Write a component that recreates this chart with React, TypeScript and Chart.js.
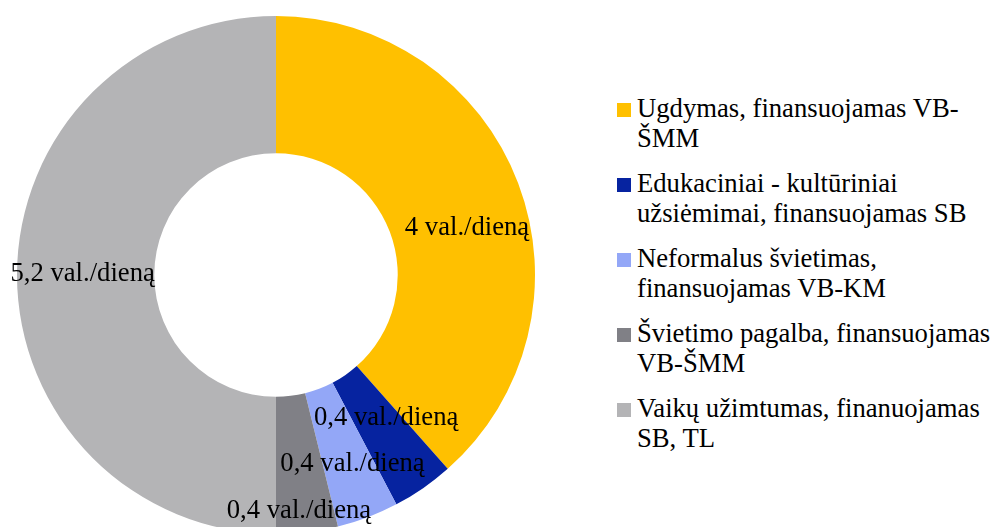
import React, { useEffect, useRef } from "react";
import { Chart, registerables } from "chart.js";

Chart.register(...registerables);

const categories = [
  "Ugdymas, finansuojamas VB-ŠMM",
  "Edukaciniai - kultūriniai užsiėmimai, finansuojamas SB",
  "Neformalus švietimas, finansuojamas VB-KM",
  "Švietimo pagalba, finansuojamas VB-ŠMM",
  "Vaikų užimtumas, finanuojamas SB, TL",
];
const legendLines = [
  ["Ugdymas, finansuojamas VB-", "ŠMM"],
  ["Edukaciniai - kultūriniai", "užsiėmimai, finansuojamas SB"],
  ["Neformalus švietimas,", "finansuojamas VB-KM"],
  ["Švietimo pagalba, finansuojamas", "VB-ŠMM"],
  ["Vaikų užimtumas, finanuojamas", "SB, TL"],
];
const values = [4, 0.4, 0.4, 0.4, 5.2];
const valueLabels = ["4 val./dieną", "0,4 val./dieną", "0,4 val./dieną", "0,4 val./dieną", "5,2 val./dieną"];
const colors = ["#FFC000", "#0623A0", "#93A7F7", "#808086", "#B4B4B6"];
// label nudges (px) relative to slice centroid, mimicking the original placement
const labelNudgeX = [13, 2, 9, 0, -3];
const labelNudgeY = [20, -14, 11, 47, -1];

const FONT = '"Times New Roman", "Liberation Serif", Times, serif';

const labelPlugin = {
  id: "sliceLabels",
  afterDatasetsDraw(chart: any) {
    const ctx = chart.ctx;
    const meta = chart.getDatasetMeta(0);
    ctx.save();
    ctx.font = `26.67px ${FONT}`;
    ctx.fillStyle = "#000";
    ctx.textAlign = "center";
    ctx.textBaseline = "middle";
    meta.data.forEach((arc: any, i: number) => {
      const p = arc.getProps(["x", "y", "startAngle", "endAngle", "innerRadius", "outerRadius"], true);
      const mid = (p.startAngle + p.endAngle) / 2;
      const r = (p.innerRadius + p.outerRadius) / 2;
      const x = p.x + Math.cos(mid) * r + labelNudgeX[i];
      const y = p.y + Math.sin(mid) * r + labelNudgeY[i];
      ctx.fillText(valueLabels[i], x, y);
    });
    ctx.restore();
  },
};

export default function App() {
  const ref = useRef<HTMLCanvasElement | null>(null);
  useEffect(() => {
    if (!ref.current) return;
    const chart = new Chart(ref.current, {
      type: "doughnut",
      data: {
        labels: categories,
        datasets: [
          {
            data: values,
            backgroundColor: colors,
            borderWidth: 0,
          },
        ],
      },
      options: {
        animation: false,
        responsive: false,
        cutout: "47%",
        layout: { padding: { left: 17, top: 16, right: 25, bottom: 26 } },
        plugins: {
          legend: { display: false },
          tooltip: { enabled: false },
        },
      },
      plugins: [labelPlugin],
    });
    return () => chart.destroy();
  }, []);

  return (
    <div
      style={{
        position: "fixed",
        left: 0,
        top: 0,
        width: 990,
        height: 527,
        overflow: "hidden",
        background: "#fff",
      }}
    >
      <canvas
        ref={ref}
        width={560}
        height={560}
        style={{ position: "absolute", left: 0, top: 0, width: 560, height: 560 }}
      />
      <div style={{ position: "absolute", left: 617, top: 93, fontFamily: FONT, fontSize: "26.67px", color: "#000" }}>
        {legendLines.map((lines, i) => (
          <div key={i} style={{ position: "relative", height: 60, marginBottom: 15 }}>
            <div
              style={{
                position: "absolute",
                left: 0,
                top: 10,
                width: 14,
                height: 14,
                background: colors[i],
              }}
            />
            <div style={{ position: "absolute", left: 20, top: 0, lineHeight: "30px", whiteSpace: "nowrap" }}>
              {lines.map((l, j) => (
                <div key={j}>{l}</div>
              ))}
            </div>
          </div>
        ))}
      </div>
    </div>
  );
}
